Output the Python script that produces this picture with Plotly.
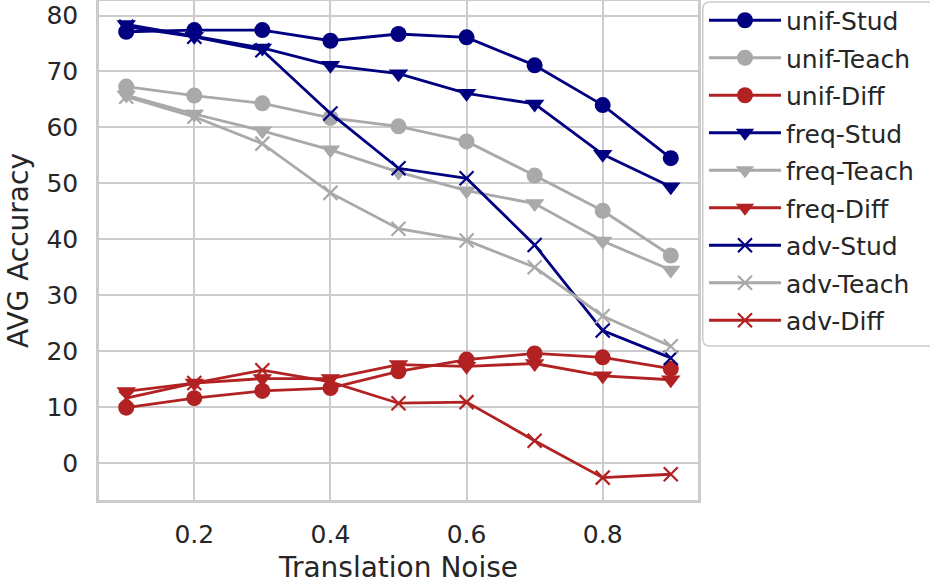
import plotly.graph_objects as go

noise = [0.1, 0.2, 0.3, 0.4, 0.5, 0.6, 0.7, 0.8, 0.9]

unif_stud = [77.1, 77.4, 77.4, 75.5, 76.7, 76.1, 71.1, 64.0, 54.5]
unif_teach = [67.3, 65.7, 64.3, 61.7, 60.2, 57.5, 51.4, 45.1, 37.1]
unif_diff = [9.9, 11.6, 12.9, 13.4, 16.4, 18.5, 19.6, 18.9, 16.9]
freq_stud = [78.4, 76.3, 74.2, 71.1, 69.6, 66.1, 64.2, 55.2, 49.4]
freq_teach = [65.8, 62.4, 59.4, 56.0, 52.0, 48.7, 46.4, 39.7, 34.5]
freq_diff = [12.8, 14.3, 15.1, 15.1, 17.6, 17.3, 17.8, 15.6, 14.9]
adv_stud = [78.0, 76.2, 73.8, 62.5, 52.7, 50.9, 39.0, 23.7, 18.8]
adv_teach = [65.5, 61.9, 57.1, 48.3, 41.9, 39.8, 35.0, 26.3, 20.9]
adv_diff = [11.6, 14.3, 16.6, 14.5, 10.7, 10.9, 4.0, -2.6, -2.0]

x_ticks = [0.2, 0.4, 0.6, 0.8]
y_ticks = [0, 10, 20, 30, 40, 50, 60, 70, 80]

NAVY = "#000080"
GRAY = "#a9a9a9"
RED = "#b22222"
TXT = "#262626"
FONT = "DejaVu Sans"

series = [
    ("unif-Stud", unif_stud, NAVY, "circle"),
    ("unif-Teach", unif_teach, GRAY, "circle"),
    ("unif-Diff", unif_diff, RED, "circle"),
    ("freq-Stud", freq_stud, NAVY, "triangle-down"),
    ("freq-Teach", freq_teach, GRAY, "triangle-down"),
    ("freq-Diff", freq_diff, RED, "triangle-down"),
    ("adv-Stud", adv_stud, NAVY, "x-thin"),
    ("adv-Teach", adv_teach, GRAY, "x-thin"),
    ("adv-Diff", adv_diff, RED, "x-thin"),
]

fig = go.Figure()
for i, (name, vals, col, sym) in enumerate(series):
    if sym == "x-thin":
        marker = dict(symbol="x-thin", size=14, color=col, line=dict(color=col, width=2.2))
    elif sym == "circle":
        marker = dict(symbol="circle", size=16, color=col, line=dict(width=0))
    else:
        marker = dict(symbol="triangle-down", size=17, color=col, line=dict(width=0))
    fig.add_trace(go.Scatter(
        x=noise, y=vals, name=name, mode="lines+markers",
        line=dict(color=col, width=2.8), marker=marker,
        legendgroup=f"g{i}",
    ))

# Legend frame (rounded box) drawn in paper coordinates
L, R = 1.008, 1.40
B, T = -0.002 + (500 - 345) / 499, 0.998
r = 0.012
path = (f"M {L + r} {T} L {R} {T} L {R} {B} L {L + r} {B} "
        f"Q {L} {B} {L} {B + r * 1.2} L {L} {T - r * 1.2} Q {L} {T} {L + r} {T} Z")
fig.add_shape(type="path", path=path, xref="paper", yref="paper",
              line=dict(color="#cccccc", width=1.5), fillcolor="white", layer="above")

fig.update_layout(
    width=930, height=585,
    margin=dict(l=99, r=232, t=1, b=85, autoexpand=False),
    paper_bgcolor="white", plot_bgcolor="white",
    font=dict(family=FONT, size=25, color=TXT),
    showlegend=True,
    legend=dict(
        x=1.01, y=1.007, xanchor="left", yanchor="top",
        bordercolor="rgba(0,0,0,0)", borderwidth=0, bgcolor="rgba(0,0,0,0)",
        font=dict(family=FONT, size=25, color=TXT),
        tracegroupgap=2, itemwidth=72, maxheight=585,
    ),
    xaxis=dict(
        range=[0.06, 0.94], tickvals=x_ticks, ticktext=[f"{v:.1f}" for v in x_ticks],
        showgrid=True, gridcolor="#cccccc", gridwidth=1.6,
        showline=True, linecolor="#cccccc", linewidth=2.5, mirror=True,
        zeroline=False, ticks="", ticklen=0, ticklabelstandoff=10,
        tickfont=dict(family=FONT, size=25, color=TXT),
        title=dict(text="Translation Noise", font=dict(family=FONT, size=28, color=TXT), standoff=10),
    ),
    yaxis=dict(
        range=[-6.6, 82.6], tickvals=y_ticks,
        showgrid=True, gridcolor="#cccccc", gridwidth=1.6,
        showline=True, linecolor="#cccccc", linewidth=2.5, mirror=True,
        zeroline=False, ticks="", ticklen=0, ticklabelstandoff=13,
        tickfont=dict(family=FONT, size=25, color=TXT),
        title=dict(text="AVG Accuracy", font=dict(family=FONT, size=28, color=TXT), standoff=10),
    ),
)

fig.write_html("out.html")
